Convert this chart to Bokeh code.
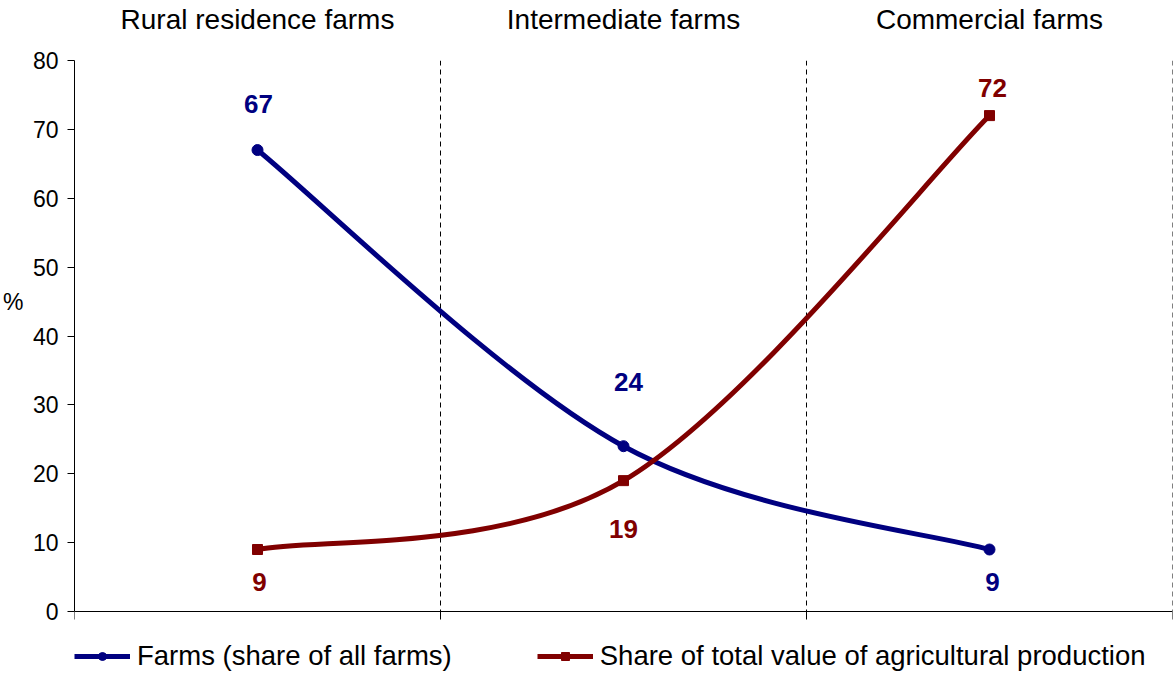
from bokeh.plotting import figure
from bokeh.models import (Range1d, FixedTicker, LinearAxis, Span, Legend, LegendItem,
                          ColumnDataSource)
from bokeh.core.properties import value
from bokeh.embed import file_html
from bokeh.resources import INLINE

# ---- data ----
categories = ["Rural residence farms", "Intermediate farms", "Commercial farms"]
farms_share = [67, 24, 9]
production_share = [9, 19, 72]
y_ticks = [0, 10, 20, 30, 40, 50, 60, 70, 80]
y_unit = "%"
y_unit_at = 45
series_names = ["Farms (share of all farms)", "Share of total value of agricultural production"]

# ---- styles / layout ----
BLUE = "#000080"
RED = "#800000"
FONT = "Liberation Sans"
PLOT_PX = 551        # pixel height of the 0..80 value area
LEGEND_PX = 61       # pixel band below the value area for the legend
TICK_PX = 8          # downward tick length on the category axis
# label pixel offsets (style only)
farms_label_dy = [-46, -64, 32]
farms_label_dx = [1, 5, 3]
prod_label_dy = [32, 48, -28]
prod_label_dx = [2, 0, 3]

n = len(categories)
xs = [i + 0.5 for i in range(n)]
y_min, y_max = y_ticks[0], y_ticks[-1]
px_per_unit = PLOT_PX / (y_max - y_min)
y_lo = y_min - LEGEND_PX / px_per_unit
bounds = list(range(n + 1))


def smooth_segments(x, y):
    """Excel-like smoothed line: cubic Bezier segments (Catmull-Rom, tension 1/6)."""
    m = len(x)
    seg = dict(x0=[], y0=[], x1=[], y1=[], cx0=[], cy0=[], cx1=[], cy1=[])
    for i in range(m - 1):
        p0 = max(i - 1, 0)
        p3 = min(i + 2, m - 1)
        seg["x0"].append(x[i]); seg["y0"].append(y[i])
        seg["x1"].append(x[i + 1]); seg["y1"].append(y[i + 1])
        seg["cx0"].append(x[i] + (x[i + 1] - x[p0]) / 6.0)
        seg["cy0"].append(y[i] + (y[i + 1] - y[p0]) / 6.0)
        seg["cx1"].append(x[i + 1] - (x[p3] - x[i]) / 6.0)
        seg["cy1"].append(y[i + 1] - (y[p3] - y[i]) / 6.0)
    return seg


p = figure(output_backend="svg", toolbar_location=None,
           frame_width=1098, frame_height=PLOT_PX + LEGEND_PX,
           min_border_left=60, min_border_right=2, min_border_top=53, min_border_bottom=0,
           x_range=Range1d(0, n), y_range=Range1d(y_lo, y_max),
           x_axis_location=None, y_axis_location=None)
p.background_fill_color = "white"
p.border_fill_color = "white"
p.outline_line_color = None
p.xgrid.visible = False
p.ygrid.visible = False

# y axis
yax = LinearAxis(ticker=FixedTicker(ticks=y_ticks), bounds=(y_min, y_max))
yax.axis_line_color = "black"
yax.major_tick_line_color = "black"
yax.major_tick_out = 7
yax.major_tick_in = 0
yax.minor_tick_line_color = None
yax.major_label_text_font = FONT
yax.major_label_text_font_size = "23px"
yax.major_label_text_color = "black"
yax.major_label_standoff = 9
p.add_layout(yax, "left")

# "%" unit as an outer left axis label
yunit = LinearAxis(ticker=FixedTicker(ticks=[y_unit_at]))
yunit.axis_line_color = None
yunit.major_tick_line_color = None
yunit.minor_tick_line_color = None
yunit.major_label_overrides = {y_unit_at: y_unit}
yunit.major_label_text_font = FONT
yunit.major_label_text_font_size = "23px"
yunit.major_label_text_color = "black"
yunit.major_label_standoff = 0
p.add_layout(yunit, "left")

# top axis with category names
xt = LinearAxis(ticker=FixedTicker(ticks=xs))
xt.axis_line_color = None
xt.major_tick_line_color = None
xt.minor_tick_line_color = None
xt.major_label_overrides = {xs[i]: categories[i] for i in range(n)}
xt.major_label_text_font = FONT
xt.major_label_text_font_size = "28px"
xt.major_label_text_color = "black"
xt.major_label_standoff = 20
p.add_layout(xt, "above")

# category axis line at 0, downward ticks at category boundaries
p.add_layout(Span(location=y_min, dimension="width", line_color="black", line_width=1))
p.segment(x0=bounds, y0=[y_min] * len(bounds), x1=bounds,
          y1=[y_min - TICK_PX / px_per_unit] * len(bounds), line_color="black", line_width=1)

# dashed category separators
sep = bounds[1:]
p.segment(x0=sep, y0=[y_max] * len(sep), x1=sep, y1=[y_min] * len(sep),
          line_color="black", line_width=1, line_dash="5 4")

# series
bz1 = p.bezier(source=ColumnDataSource(smooth_segments(xs, farms_share)),
               x0="x0", y0="y0", x1="x1", y1="y1", cx0="cx0", cy0="cy0", cx1="cx1", cy1="cy1",
               line_color=BLUE, line_width=5)
sc1 = p.scatter(xs, farms_share, marker="circle", size=11, fill_color=BLUE, line_color=BLUE)
bz2 = p.bezier(source=ColumnDataSource(smooth_segments(xs, production_share)),
               x0="x0", y0="y0", x1="x1", y1="y1", cx0="cx0", cy0="cy0", cx1="cx1", cy1="cy1",
               line_color=RED, line_width=5)
sc2 = p.scatter(xs, production_share, marker="square", size=10, fill_color=RED, line_color=RED)

# data labels
p.text(x=xs, y=farms_share, text=[str(v) for v in farms_share],
       x_offset=farms_label_dx, y_offset=farms_label_dy,
       text_font=value(FONT), text_font_style="bold", text_font_size="26px",
       text_color=BLUE, text_align="center", text_baseline="middle")
p.text(x=xs, y=production_share, text=[str(v) for v in production_share],
       x_offset=prod_label_dx, y_offset=prod_label_dy,
       text_font=value(FONT), text_font_style="bold", text_font_size="26px",
       text_color=RED, text_align="center", text_baseline="middle")

# legend (in the band below the value area)
legend = Legend(items=[LegendItem(label=series_names[0], renderers=[bz1, sc1]),
                       LegendItem(label=series_names[1], renderers=[bz2, sc2])],
                orientation="horizontal", location=(0, 0),
                spacing=85, glyph_width=56, glyph_height=20, label_standoff=7,
                padding=0, margin=0, border_line_color=None, background_fill_alpha=0,
                label_text_font=FONT, label_text_font_size="27.5px", label_text_color="black",
                label_text_baseline="middle")
p.add_layout(legend, "center")

open("out.html", "w").write(file_html(p, INLINE))
